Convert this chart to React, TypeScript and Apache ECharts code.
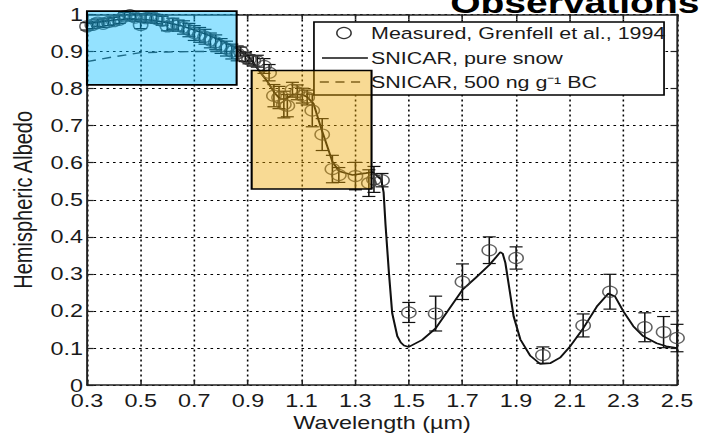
import React, { useEffect, useRef } from "react";
import * as echarts from "echarts";

// ---------- data ----------
const X0 = 0.3; // first tick of the wavelength axis

// Measured albedo (Grenfell et al., 1994)
const measWl = [
  0.30, 0.32, 0.34, 0.36, 0.38, 0.40, 0.42, 0.44, 0.46, 0.48, 0.50, 0.52, 0.54, 0.56, 0.58,
  0.60, 0.62, 0.64, 0.66, 0.68, 0.70, 0.72, 0.74, 0.76, 0.78, 0.80, 0.82, 0.84, 0.86,
  0.873, 0.89, 0.904, 0.92, 0.935, 0.96, 0.979, 0.997, 1.016, 1.034, 1.047, 1.066, 1.084,
  1.103, 1.121, 1.14, 1.177, 1.215, 1.239, 1.301, 1.351, 1.37, 1.40,
  1.50, 1.60, 1.70, 1.80, 1.90, 2.00, 2.15, 2.25, 2.38, 2.45, 2.50,
];
const measAlb = [
  0.968, 0.972, 0.978, 0.975, 0.98, 0.982, 0.986, 0.995, 0.998, 0.992, 0.972, 0.99, 0.992, 0.988, 0.983,
  0.968, 0.975, 0.97, 0.965, 0.958, 0.95, 0.945, 0.94, 0.93, 0.925, 0.915, 0.908, 0.9, 0.895,
  0.9, 0.885, 0.879, 0.875, 0.874, 0.861, 0.843, 0.781, 0.776, 0.757, 0.754, 0.797, 0.79,
  0.781, 0.776, 0.741, 0.676, 0.583, 0.567, 0.564, 0.545, 0.555, 0.553,
  0.196, 0.193, 0.279, 0.364, 0.343, 0.081, 0.161, 0.252, 0.156, 0.143, 0.127,
];
const measErr = [
  0.01, 0.01, 0.01, 0.01, 0.01, 0.01, 0.01, 0.01, 0.01, 0.01, 0.01, 0.012, 0.012, 0.012, 0.012,
  0.012, 0.015, 0.015, 0.018, 0.018, 0.02, 0.02, 0.02, 0.02, 0.02, 0.02, 0.02, 0.02, 0.02,
  0.012, 0.012, 0.012, 0.014, 0.016, 0.02, 0.022, 0.03, 0.03, 0.036, 0.03, 0.02, 0.02,
  0.02, 0.02, 0.044, 0.043, 0.037, 0.02, 0.037, 0.036, 0.035, 0.018,
  0.027, 0.047, 0.048, 0.036, 0.03, 0.022, 0.031, 0.047, 0.039, 0.042, 0.037,
];

// SNICAR, pure snow
const snowWl = [
  0.30, 0.35, 0.40, 0.45, 0.50, 0.55, 0.60, 0.65, 0.70, 0.75, 0.80, 0.85, 0.90, 0.92, 0.94,
  0.97, 1.00, 1.02, 1.04, 1.07, 1.10, 1.12, 1.145, 1.17, 1.19, 1.215, 1.24, 1.29, 1.34,
  1.365, 1.385, 1.397, 1.406, 1.413, 1.426, 1.438, 1.457, 1.47, 1.482, 1.50, 1.55, 1.60,
  1.65, 1.70, 1.75, 1.80, 1.825, 1.841, 1.85, 1.86, 1.875, 1.891, 1.916, 1.953, 1.99,
  2.027, 2.064, 2.102, 2.151, 2.201, 2.244, 2.269, 2.30, 2.337, 2.374, 2.424, 2.46, 2.50,
];
const snowAlb = [
  0.975, 0.98, 0.985, 0.988, 0.987, 0.984, 0.978, 0.97, 0.958, 0.945, 0.93, 0.912, 0.89, 0.87, 0.85,
  0.822, 0.788, 0.772, 0.772, 0.785, 0.784, 0.778, 0.759, 0.70, 0.657, 0.603, 0.577, 0.567, 0.572,
  0.575, 0.562, 0.555, 0.52, 0.434, 0.301, 0.194, 0.132, 0.115, 0.107, 0.103, 0.122, 0.153,
  0.205, 0.257, 0.29, 0.324, 0.345, 0.359, 0.355, 0.33, 0.26, 0.185, 0.123, 0.079, 0.057,
  0.059, 0.074, 0.105, 0.154, 0.212, 0.247, 0.239, 0.199, 0.159, 0.132, 0.113, 0.105, 0.10,
];

// SNICAR, 500 ng/g black carbon
const bcWl = [0.30, 0.40, 0.50, 0.60, 0.70, 0.80, 0.85, 0.88, 0.90, 0.92, 0.94, 0.97, 1.00];
const bcAlb = [0.873, 0.886, 0.897, 0.899, 0.90, 0.90, 0.90, 0.895, 0.887, 0.869, 0.85, 0.822, 0.788];

// Highlight boxes: [x0, y0, x1, y1] in data units
const blueBox = [0.3, 0.81, 0.858, 1.009];
const orangeBox = [0.914, 0.529, 1.361, 0.849];

const xTicksFmt = (v: number) => (v + X0).toFixed(1);
const SX = 1.3; // horizontal stretch of the original figure

export default function App() {
  const ref = useRef<HTMLDivElement>(null);

  useEffect(() => {
    if (!ref.current) return;
    const chart = echarts.init(ref.current, undefined, { renderer: "svg" });
    const sx = (x: number) => +(x - X0).toFixed(4);
    const font = "Liberation Sans";
    const txt = "#1a1a1a";

    const errData = measWl.map((x, i) => [sx(x), measAlb[i] - measErr[i], measAlb[i] + measErr[i]]);
    const boxes = [blueBox, orangeBox].map((b) => [sx(b[0]), b[1], sx(b[2]), b[3]]);
    const boxFills = ["rgba(0,186,255,0.42)", "rgba(238,167,0,0.42)"];

    const axisCommon = {
      type: "value" as const,
      axisLine: { show: true, onZero: false, lineStyle: { color: "#222", width: 1.5 } },
      axisTick: { show: true, inside: true, length: 5, lineStyle: { color: "#222", width: 1.2 } },
    };

    chart.setOption({
      animation: false,
      backgroundColor: "#fff",
      grid: { left: 66.15, right: 19.23, top: 14.5, bottom: 47.5, containLabel: false },
      xAxis: [
        {
          ...axisCommon,
          position: "bottom",
          min: 0,
          max: 2.2,
          interval: 0.2,
          axisLabel: { formatter: xTicksFmt, fontSize: 18, color: txt, margin: 6, fontFamily: font },
          splitLine: { show: true, lineStyle: { type: [2, 3], color: "#000", width: 1.2 } },
          name: "Wavelength (µm)",
          nameLocation: "middle",
          nameGap: 24,
          nameTextStyle: { fontSize: 18, color: txt, fontFamily: font },
        },
        {
          ...axisCommon,
          position: "top",
          min: 0,
          max: 2.2,
          interval: 0.2,
          axisLabel: { show: false },
          splitLine: { show: false },
        },
      ],
      yAxis: [
        {
          ...axisCommon,
          position: "left",
          min: 0,
          max: 1,
          interval: 0.1,
          axisLabel: { fontSize: 18, color: txt, margin: 3, fontFamily: font },
          splitLine: { show: true, lineStyle: { type: [2, 3], color: "#000", width: 1.2 } },
          name: "Hemispheric Albedo",
          nameLocation: "middle",
          nameGap: 35,
          nameTextStyle: { fontSize: 20, color: txt, fontFamily: font },
        },
        {
          ...axisCommon,
          position: "right",
          min: 0,
          max: 1,
          interval: 0.1,
          axisLabel: { show: false },
          splitLine: { show: false },
        },
      ],
      graphic: [
        {
          type: "text",
          z: 5,
          x: 538,
          y: 2.5,
          style: {
            text: "Observations",
            fontSize: 30,
            fontWeight: "bold",
            fontFamily: font,
            fill: "#000",
            align: "right",
            verticalAlign: "middle",
          },
        },
        {
          type: "rect",
          z: 5,
          shape: { x: 241.5, y: 22, width: 269.3, height: 73 },
          style: { fill: "#fff", stroke: "#000", lineWidth: 1.3 },
        },
        {
          type: "circle",
          z: 6,
          shape: { cx: 264.6, cy: 33, r: 5.5 },
          style: { fill: "none", stroke: "#333", lineWidth: 1.2 },
        },
        {
          type: "line",
          z: 6,
          shape: { x1: 247.7, y1: 58, x2: 283, y2: 58 },
          style: { stroke: "#111", lineWidth: 1.5 },
        },
        {
          type: "line",
          z: 6,
          shape: { x1: 246, y1: 82, x2: 280, y2: 82 },
          style: { stroke: "#333", lineWidth: 1.4, lineDash: [7, 5] },
        },
        ...[
          ["Measured, Grenfell et al., 1994", 33],
          ["SNICAR, pure snow", 58],
          ["SNICAR, 500 ng g⁻¹ BC", 82],
        ].map(([t, y]) => ({
          type: "text",
          z: 6,
          x: 285.4,
          y: y as number,
          style: {
            text: t as string,
            fontSize: 16.5,
            fontFamily: font,
            fill: txt,
            align: "left",
            verticalAlign: "middle",
          },
        })),
      ],
      series: [
        {
          type: "line",
          name: "SNICAR, pure snow",
          data: snowWl.map((x, i) => [sx(x), snowAlb[i]]),
          showSymbol: false,
          symbol: "none",
          lineStyle: { color: "#111", width: 1.6 },
          z: 3,
        },
        {
          type: "line",
          name: "SNICAR, 500 ng g-1 BC",
          data: bcWl.map((x, i) => [sx(x), bcAlb[i]]),
          showSymbol: false,
          symbol: "none",
          lineStyle: { color: "#333", width: 1.4, type: [7, 5] },
          z: 3,
        },
        {
          type: "custom",
          name: "error",
          data: errData,
          encode: { x: 0, y: [1, 2] },
          z: 4,
          renderItem: (_p: any, api: any) => {
            const x = api.value(0);
            const lo = api.coord([x, api.value(1)]);
            const hi = api.coord([x, api.value(2)]);
            const hw = 5;
            const st = { stroke: "#111", lineWidth: 1.2 };
            return {
              type: "group",
              children: [
                { type: "line", shape: { x1: lo[0], y1: lo[1], x2: hi[0], y2: hi[1] }, style: st },
                { type: "line", shape: { x1: lo[0] - hw, y1: lo[1], x2: lo[0] + hw, y2: lo[1] }, style: st },
                { type: "line", shape: { x1: hi[0] - hw, y1: hi[1], x2: hi[0] + hw, y2: hi[1] }, style: st },
              ],
            };
          },
        },
        {
          type: "scatter",
          name: "Measured, Grenfell et al., 1994",
          data: measWl.map((x, i) => [sx(x), measAlb[i]]),
          symbol: "circle",
          symbolSize: 11,
          itemStyle: { color: "rgba(0,0,0,0)", borderColor: "#3a3a3a", borderWidth: 1.2 },
          z: 4,
        },
        {
          type: "custom",
          name: "boxes",
          data: boxes,
          encode: { x: [0, 2], y: [1, 3] },
          z: 10,
          clip: false,
          renderItem: (p: any, api: any) => {
            const a = api.coord([api.value(0), api.value(3)]);
            const b = api.coord([api.value(2), api.value(1)]);
            return {
              type: "rect",
              shape: { x: a[0], y: a[1], width: b[0] - a[0], height: b[1] - a[1] },
              style: { fill: boxFills[p.dataIndex], stroke: "#000", lineWidth: 1.6 },
            };
          },
        },
      ],
    });
    return () => chart.dispose();
  }, []);

  return (
    <div
      style={{
        position: "fixed",
        left: 0,
        top: 0,
        width: 702,
        height: 437,
        overflow: "hidden",
        background: "#fff",
      }}
    >
      <div
        ref={ref}
        style={{
          width: 702 / SX,
          height: 437,
          transform: `scaleX(${SX})`,
          transformOrigin: "0 0",
        }}
      />
    </div>
  );
}
